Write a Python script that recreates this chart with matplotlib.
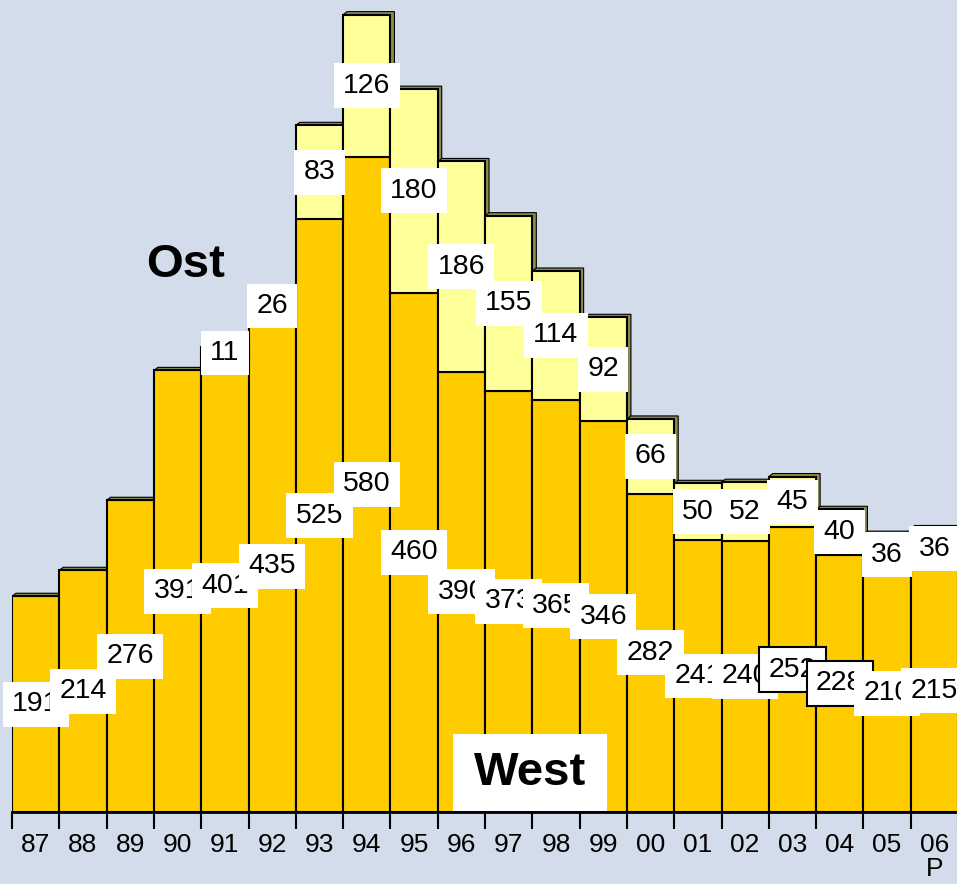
import matplotlib
matplotlib.use("Agg")
import matplotlib.pyplot as plt
from matplotlib.patches import Polygon, Rectangle

plt.rcParams['font.family'] = ['Liberation Sans', 'DejaVu Sans']

years = ["87", "88", "89", "90", "91", "92", "93", "94", "95", "96",
         "97", "98", "99", "00", "01", "02", "03", "04", "05", "06\nP"]
west = [191, 214, 276, 391, 401, 435, 525, 580, 460, 390,
        373, 365, 346, 282, 241, 240, 252, 228, 210, 215]
ost = [0, 0, 0, 0, 11, 26, 83, 126, 180, 186,
       155, 114, 92, 66, 50, 52, 45, 40, 36, 36]

bg = "#D2DCEA"
c_west = "#FFCC00"
c_ost = "#FFFF99"
c_shadow = "#8C8C4E"

fig = plt.figure(figsize=(9.57, 8.84), dpi=100, facecolor=bg)
ax = fig.add_axes([12 / 957, 72 / 884, 946 / 957, 812 / 884])
ax.set_facecolor(bg)

n = len(years)
xs = list(range(n))
ax.set_xlim(-0.5, n - 0.5)
ax.set_ylim(0, 719)

# 3D look: top and right face behind each bar
dx, dy = 0.085, 2.7
for i in xs:
    top = west[i] + ost[i]
    x0, x1 = i - 0.5, i + 0.5
    poly = Polygon([(x0, top), (x0 + dx, top + dy), (x1 + dx, top + dy),
                    (x1 + dx, dy), (x1, 0)], closed=True,
                   facecolor=c_shadow, edgecolor="black", lw=0.8, zorder=1)
    ax.add_patch(poly)

ax.bar(xs, west, width=1.0, color=c_west, edgecolor="black", lw=1.5, zorder=2)
ax.bar(xs, ost, width=1.0, bottom=west, color=c_ost, edgecolor="black", lw=1.5, zorder=2)

# value labels
boxed = {16, 17}
for i in xs:
    ec = "black" if i in boxed else "none"
    ax.text(i, west[i] / 2, str(west[i]), ha="center", va="center", fontsize=20.5,
            bbox=dict(boxstyle="square,pad=0.33", fc="white", ec=ec, lw=1.5), zorder=4)
    if ost[i] > 0:
        ax.text(i, west[i] + ost[i] / 2, str(ost[i]), ha="center", va="center", fontsize=20.5,
                bbox=dict(boxstyle="square,pad=0.33", fc="white", ec="none"), zorder=4)

# series names
ax.text(3.16, 484, "Ost", ha="center", va="center", fontsize=34, fontweight="bold", zorder=5)
ax.add_patch(Rectangle((8.82, 0.5), 3.26, 68.5, facecolor="white", edgecolor="none", zorder=5))
ax.text(10.45, 34.5, "West", ha="center", va="center", fontsize=34, fontweight="bold", zorder=6)

# axes
for s in ["top", "left", "right"]:
    ax.spines[s].set_visible(False)
ax.spines["bottom"].set_linewidth(2)
ax.spines["bottom"].set_zorder(7)
ax.set_yticks([])
ax.set_xticks(xs)
ax.set_xticklabels(years, fontsize=19, linespacing=1.0)
ax.set_xticks([i - 0.5 for i in range(n + 1)], minor=True)
ax.tick_params(axis="x", which="major", length=0, pad=15)
ax.tick_params(axis="x", which="minor", length=12, width=1.5, direction="out")

fig.savefig("out.png", dpi=100, facecolor=bg)
